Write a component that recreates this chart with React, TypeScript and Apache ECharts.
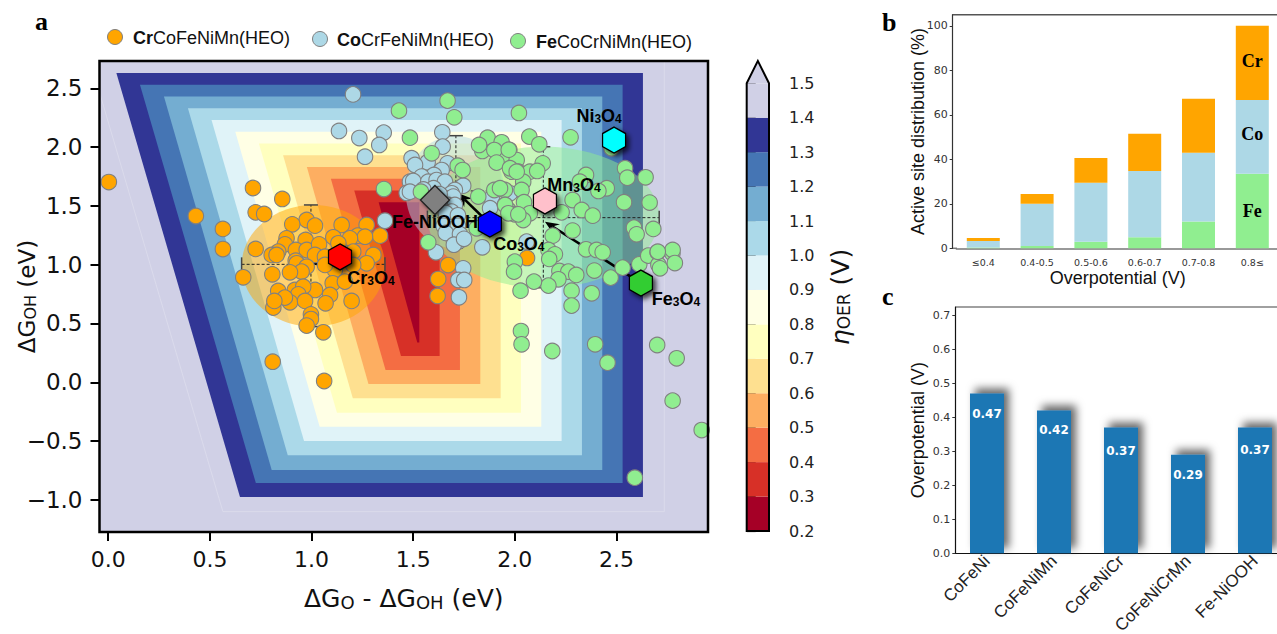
import React, { useEffect, useRef } from "react";
import * as echarts from "echarts";

const DEJAVU = "DejaVu Sans";
const ARIAL = "Liberation Sans";
const SERIF = "Liberation Serif";

// ---- panel a: contour bands (upper bound of each band)
const levels = [1.5, 1.4, 1.3, 1.2, 1.1, 1.0, 0.9, 0.8, 0.7, 0.6, 0.5, 0.4, 0.3];
const levelTop = [2.8, 2.63, 2.53, 2.43, 2.33, 2.23, 2.13, 2.03, 1.93, 1.83, 1.73, 1.63, 1.53];
const levelRight = [2.735, 2.63, 2.53, 2.43, 2.33, 2.23, 2.13, 2.03, 1.93, 1.83, 1.73, 1.63, 1.53];
const levelBottom = [-1.1, -0.975, -0.856, -0.746, -0.62, -0.5, -0.377, -0.258, -0.136, -0.014, 0.105, 0.224, 0.339];
const levelLeftTop = [-0.1, 0.04, 0.156, 0.274, 0.392, 0.508, 0.625, 0.741, 0.86, 0.977, 1.095, 1.21, 1.33];
const levelLeftBottom = [0.564, 0.648, 0.726, 0.804, 0.883, 0.963, 1.04, 1.125, 1.203, 1.28, 1.364, 1.44, 1.52];
const levelColors = ["#d0d0e6", "#313695", "#4575b4", "#74add1", "#abd9e9", "#e0f3f8", "#ffffe5", "#ffffbf", "#fee090", "#fdae61", "#f46d43", "#d73027", "#a50026"];

const crPoints = [
  [0.003, 1.703], [0.431, 1.414], [0.564, 1.304], [0.564, 1.133], [0.712, 1.652], [0.809, 0.175], [1.062, 0.011],
  [0.856, 1.559], [0.725, 1.445], [0.767, 1.431], [0.976, 1.38], [0.905, 1.343], [1.017, 1.332], [1.148, 1.338],
  [1.271, 1.338], [1.337, 1.247], [1.227, 1.247], [1.263, 1.238], [1.189, 1.224], [1.107, 1.233], [1.132, 1.182],
  [0.971, 1.21], [0.877, 1.224], [0.869, 1.173], [0.836, 1.111], [0.725, 1.134], [0.804, 1.083], [0.828, 1.083],
  [0.923, 1.125], [0.976, 1.125], [1.037, 1.173], [1.017, 1.083], [0.922, 1.034], [0.927, 1.012], [1.066, 1.068],
  [1.205, 1.111], [1.304, 1.083], [1.271, 1.012], [1.205, 0.998], [1.115, 0.955], [0.976, 0.983], [0.951, 0.941],
  [0.894, 0.935], [0.807, 0.918], [0.664, 0.893], [1.066, 0.998], [1.017, 0.785], [1.104, 0.842], [1.164, 0.856],
  [1.197, 0.692], [1.091, 0.743], [1.069, 0.672], [0.836, 0.777], [0.918, 0.785], [0.959, 0.813], [0.935, 0.748],
  [0.894, 0.68], [0.869, 0.72], [0.968, 0.692], [0.812, 0.635], [0.817, 0.692], [0.997, 0.578], [0.997, 0.538],
  [0.976, 0.482], [1.058, 0.425], [1.672, 0.997], [1.623, 0.878], [1.62, 0.734], [2.06, 1.057],
];
const coPoints = [
  [1.204, 2.448], [1.135, 2.137], [1.235, 2.077], [1.355, 2.123], [1.333, 2.018], [1.263, 1.918], [1.361, 1.374],
  [2.058, 1.196], [1.484, 1.706], [1.468, 1.61], [1.643, 2.126], [1.645, 2.004], [1.492, 1.905], [1.571, 1.871],
  [1.509, 1.848], [1.669, 1.862], [1.64, 1.805], [1.602, 1.763], [1.541, 1.749], [1.5, 1.712], [1.574, 1.706],
  [1.615, 1.72], [1.656, 1.706], [1.484, 1.621], [1.746, 1.672], [1.705, 1.635], [1.689, 1.607], [1.681, 1.565],
  [1.697, 1.579], [1.673, 1.508], [1.705, 1.508], [1.689, 1.451], [1.664, 1.394], [1.697, 1.38], [1.681, 1.324],
  [1.689, 1.281], [1.722, 1.196], [1.697, 1.224], [1.612, 1.105], [1.84, 1.148], [1.746, 0.969], [1.722, 0.87],
  [1.751, 0.87], [1.725, 0.723], [1.886, 1.565], [1.878, 1.48], [1.976, 1.607], [1.6, 1.65], [1.63, 1.6], [1.55, 1.64],
  [1.66, 1.44], [1.72, 1.42], [1.65, 1.33], [1.72, 1.33], [1.66, 1.27], [1.73, 1.26], [1.7, 1.17], [1.75, 1.22],
];
const fePoints = [
  [2.071, 2.089], [2.12, 2.024], [2.274, 2.083], [2.476, 1.99], [1.973, 1.975], [1.935, 1.905], [2.009, 1.89],
  [1.984, 1.791], [2.017, 1.791], [2.074, 1.791], [2.137, 1.862], [2.11, 1.797], [2.041, 1.706], [2.033, 1.635],
  [1.951, 1.635], [2.045, 1.531], [1.951, 1.508], [1.968, 1.465], [2.0, 1.428], [2.074, 1.437], [2.041, 1.38],
  [2.35, 1.763], [2.32, 1.706], [2.452, 1.65], [2.411, 1.627], [2.284, 1.55], [2.329, 1.465], [2.383, 1.417],
  [2.23, 1.445], [2.542, 1.82], [2.553, 1.74], [2.643, 1.743], [2.537, 1.531], [2.663, 1.528], [2.586, 1.315],
  [2.599, 1.258], [2.681, 1.304], [2.284, 1.29], [2.186, 1.247], [2.165, 1.125], [2.197, 1.088], [2.169, 1.049],
  [2.0, 1.026], [1.996, 0.941], [2.35, 1.131], [2.402, 1.125], [2.432, 1.105], [2.219, 0.947], [2.263, 0.941],
  [2.302, 0.913], [2.214, 0.876], [2.391, 0.95], [2.471, 0.89], [2.165, 0.822], [2.094, 0.856], [2.028, 0.779],
  [2.279, 0.779], [2.378, 0.757], [2.279, 0.652], [2.53, 0.975], [2.612, 1.003], [2.656, 1.077], [2.702, 1.105],
  [2.775, 1.097], [2.706, 1.0], [2.714, 0.969], [2.776, 1.125], [2.787, 1.014], [2.703, 1.11],
  [1.484, 2.08], [1.591, 1.947], [1.866, 2.08], [1.935, 2.041], [1.84, 1.967], [1.899, 1.975], [1.97, 1.978],
  [1.824, 2.018], [1.91, 1.868], [1.719, 1.842], [1.743, 1.805], [1.976, 1.82], [2.009, 1.791], [1.538, 1.621],
  [1.82, 1.579], [1.899, 1.635], [1.927, 1.65], [1.952, 1.508], [1.968, 1.437], [2.017, 1.428], [1.574, 1.19],
  [1.812, 1.309], [1.43, 2.31], [1.356, 1.643], [1.669, 2.395], [1.702, 2.253], [2.02, 2.29],
  [2.03, 0.436], [2.033, 0.323], [2.184, 0.266], [2.395, 0.323], [2.456, 0.167], [2.7, 0.317], [2.796, 0.204],
  [2.776, -0.156], [2.919, -0.406], [2.59, -0.811],
];

// spreads: [xLow, xHigh, yLow, yHigh, xCross, yCross]
const crSpread = [0.656, 1.361, 0.473, 1.508, 0.997, 1.003];
const coSpread = [1.463, 1.948, 1.14, 2.097, 1.71, 1.627];
const feSpread = [1.57, 2.71, 0.804, 2.003, 2.14, 1.4];

const oxideNames = ["Cr3O4", "Co3O4", "Mn3O4", "Ni3O4", "Fe3O4"];
const oxideLabels = ["Cr{s|3}O{s|4}", "Co{s|3}O{s|4}", "Mn{s|3}O{s|4}", "Ni{s|3}O{s|4}", "Fe{s|3}O{s|4}"];
const oxideX = [1.14, 1.877, 2.148, 2.488, 2.62];
const oxideY = [1.066, 1.346, 1.542, 2.06, 0.844];
const oxideColors = ["#ff0000", "#0000ff", "#ffc0cb", "#00ffff", "#32cd32"];
const oxideLabelOffsets = [[31, 21], [29, 20], [29, -16], [-15, -24], [35, 16]];
const refPoint = [1.607, 1.55];

const arrowFrom = [[1.14, 1.066], [1.877, 1.346], [2.62, 0.844]];
const arrowTo = [[0.997, 1.003], [1.722, 1.607], [2.148, 1.366]];

const xTicksA = [0, 0.5, 1, 1.5, 2, 2.5];
const yTicksA = [-1, -0.5, 0, 0.5, 1, 1.5, 2, 2.5];

// ---- colorbar
const barLows = [0.2, 0.3, 0.4, 0.5, 0.6, 0.7, 0.8, 0.9, 1.0, 1.1, 1.2, 1.3, 1.4];
const barColors = ["#a50026", "#d73027", "#f46d43", "#fdae61", "#fee090", "#ffffbf", "#ffffe5", "#e0f3f8", "#abd9e9", "#74add1", "#4575b4", "#313695", "#d0d0e6"];

// ---- panel b
const bCategories = ["≤0.4", "0.4-0.5", "0.5-0.6", "0.6-0.7", "0.7-0.8", "0.8≤"];
const bFe = [0.4, 1, 3, 5, 12, 33.5];
const bCo = [2.9, 19, 26.5, 29.8, 31, 33.2];
const bCr = [1.3, 4.4, 11.1, 16.7, 24.2, 33.3];
const bYTicks = [0, 20, 40, 60, 80, 100];

// ---- panel c
const cCategories = ["CoFeNi", "CoFeNiMn", "CoFeNiCr", "CoFeNiCrMn", "Fe-NiOOH"];
const cValues = [0.47, 0.42, 0.37, 0.29, 0.37];
const cLabelGaps = [15, 14, 18, 14, 17];
const cYTicks = [0, 0.1, 0.2, 0.3, 0.4, 0.5, 0.6, 0.7];

const hexPath = "path://M0,-1 L0.866,-0.5 L0.866,0.5 L0,1 L-0.866,0.5 L-0.866,-0.5 Z";
const POINT_BORDER = "#808080";

function ellipseSeries(s: number[], fill: string) {
  return {
    type: "custom", xAxisIndex: 0, yAxisIndex: 0, silent: true, clip: true,
    data: [[s[0], s[1], s[2], s[3]]],
    encode: { x: 0, y: 2 },
    renderItem: (_p: any, api: any) => {
      const a = api.coord([api.value(0), api.value(2)]);
      const b = api.coord([api.value(1), api.value(3)]);
      return {
        type: "ellipse",
        shape: { cx: (a[0] + b[0]) / 2, cy: (a[1] + b[1]) / 2, rx: Math.abs(b[0] - a[0]) / 2, ry: Math.abs(b[1] - a[1]) / 2 },
        style: { fill },
      };
    },
  };
}

function pointSeries(points: number[][], color: string) {
  return {
    type: "scatter", xAxisIndex: 0, yAxisIndex: 0, silent: true,
    symbol: "circle", symbolSize: 15.5,
    itemStyle: { color, borderColor: POINT_BORDER, borderWidth: 1.1, opacity: 1 },
    data: points,
  };
}

function spreadSeries() {
  return {
    type: "custom", xAxisIndex: 0, yAxisIndex: 0, silent: true, clip: false,
    data: [crSpread, coSpread, feSpread],
    encode: { x: 4, y: 5 },
    renderItem: (_p: any, api: any) => {
      const l = api.coord([api.value(0), api.value(5)]);
      const r = api.coord([api.value(1), api.value(5)]);
      const b = api.coord([api.value(4), api.value(2)]);
      const t = api.coord([api.value(4), api.value(3)]);
      const dash = { stroke: "#222", lineWidth: 1, lineDash: [3, 2] };
      const cap = { stroke: "#444", lineWidth: 1.5 };
      const line = (x1: number, y1: number, x2: number, y2: number, style: any) => ({ type: "line", shape: { x1, y1, x2, y2 }, style });
      return {
        type: "group",
        children: [
          line(l[0], l[1], r[0], r[1], dash),
          line(b[0], b[1], t[0], t[1], dash),
          line(l[0], l[1] - 7, l[0], l[1] + 7, cap),
          line(r[0], r[1] - 7, r[0], r[1] + 7, cap),
          line(b[0] - 7, b[1], b[0] + 7, b[1], cap),
          line(t[0] - 7, t[1], t[0] + 7, t[1], cap),
        ],
      };
    },
  };
}

function arrowSeries() {
  return {
    type: "custom", xAxisIndex: 0, yAxisIndex: 0, silent: true, clip: false,
    data: arrowFrom.map((f, i) => [f[0], f[1], arrowTo[i][0], arrowTo[i][1]]),
    encode: { x: 0, y: 1 },
    renderItem: (_p: any, api: any) => {
      const a = api.coord([api.value(0), api.value(1)]);
      const b = api.coord([api.value(2), api.value(3)]);
      const ang = Math.atan2(b[1] - a[1], b[0] - a[0]);
      const ux = Math.cos(ang), uy = Math.sin(ang);
      const hl = 14, hw = 6, notch = 9;
      return {
        type: "group",
        children: [
          { type: "line", shape: { x1: a[0], y1: a[1], x2: b[0] - ux * notch, y2: b[1] - uy * notch }, style: { stroke: "#000", lineWidth: 2.6 } },
          {
            type: "polygon",
            shape: {
              points: [
                [b[0], b[1]],
                [b[0] - ux * hl - uy * hw, b[1] - uy * hl + ux * hw],
                [b[0] - ux * notch, b[1] - uy * notch],
                [b[0] - ux * hl + uy * hw, b[1] - uy * hl - ux * hw],
              ],
            },
            style: { fill: "#000" },
          },
        ],
      };
    },
  };
}

const markerLabelRich = {
  s: { fontSize: 12, fontWeight: "bold", fontFamily: ARIAL, color: "#000", verticalAlign: "bottom", padding: [4, 0, 0, 0] },
};

const option: any = {
  animation: false,
  backgroundColor: "#fff",
  grid: [
    { left: 99.5, top: 61, width: 608.5, height: 471, show: true, backgroundColor: "#d0d0e6", borderWidth: 0, z: 0, outerBoundsMode: "none" },
    { left: 746.7, top: 83.3, width: 22.3, height: 447.7, outerBoundsMode: "none" },
    { left: 956.4, top: 14.7, width: 322.8, height: 233.6, outerBoundsMode: "none" },
    { left: 953.5, top: 307, width: 335, height: 246.3, outerBoundsMode: "none" },
  ],
  xAxis: [
    {
      gridIndex: 0, type: "value", min: -0.043, max: 2.95, splitLine: { show: false },
      axisLine: { show: false, onZero: false },
      axisTick: { show: true, length: 9, customValues: xTicksA, lineStyle: { color: "#000", width: 2 } },
      axisLabel: { customValues: xTicksA, fontSize: 22, fontFamily: DEJAVU, color: "#111", margin: 16, formatter: (v: number) => v.toFixed(1) },
      name: "ΔG{s|O} - ΔG{s|OH} (eV)", nameLocation: "middle", nameGap: 54, nameMoveOverlap: false,
      nameTextStyle: { fontSize: 25, fontFamily: DEJAVU, color: "#111", rich: { s: { fontSize: 18, fontFamily: DEJAVU, color: "#111", verticalAlign: "bottom", padding: [6, 0, 0, 0] } } },
    },
    { gridIndex: 1, type: "value", min: 0, max: 1, show: false },
    {
      gridIndex: 2, type: "category", data: bCategories,
      axisLine: { lineStyle: { color: "#777", width: 1.5 } },
      axisTick: { alignWithLabel: true, length: 3, lineStyle: { color: "#555" } },
      axisLabel: { fontSize: 9.5, fontFamily: DEJAVU, color: "#333", margin: 9 },
      name: "Overpotential (V)", nameLocation: "middle", nameGap: 21, nameMoveOverlap: false,
      nameTextStyle: { fontSize: 18, fontFamily: ARIAL, color: "#111" },
    },
    {
      gridIndex: 3, type: "category", data: cCategories,
      axisLine: { lineStyle: { color: "#111", width: 1.2 } },
      axisTick: { alignWithLabel: true, length: 4, lineStyle: { color: "#333" } },
      axisLabel: { fontSize: 17, fontFamily: ARIAL, color: "#222", rotate: 45, margin: 5 },
    },
  ],
  yAxis: [
    {
      gridIndex: 0, type: "value", min: -1.273, max: 2.732, splitLine: { show: false },
      axisLine: { show: false, onZero: false },
      axisTick: { show: true, length: 9, customValues: yTicksA, lineStyle: { color: "#000", width: 2 } },
      axisLabel: { customValues: yTicksA, fontSize: 23, fontFamily: DEJAVU, color: "#111", margin: 17, formatter: (v: number) => v.toFixed(1).replace("-", "−") },
      name: "ΔG{s|OH} (eV)", nameLocation: "middle", nameGap: 61, nameMoveOverlap: false,
      nameTextStyle: { fontSize: 23, fontFamily: DEJAVU, color: "#111", rich: { s: { fontSize: 16, fontFamily: DEJAVU, color: "#111", verticalAlign: "bottom", padding: [6, 0, 0, 0] } } },
    },
    {
      gridIndex: 1, type: "value", position: "right", min: 0.2, max: 1.5, interval: 0.1, splitLine: { show: false },
      axisLine: { show: false },
      axisTick: { show: true, length: 9, lineStyle: { color: "#111", width: 1.2 } },
      axisLabel: { fontSize: 16, fontFamily: DEJAVU, color: "#222", margin: 20, formatter: (v: number) => v.toFixed(1) },
    },
    {
      gridIndex: 2, type: "value", min: 0, max: 105, offset: 3.7, splitLine: { show: false },
      axisLine: { show: true, lineStyle: { color: "#333", width: 1.2 } },
      axisTick: { show: true, length: 3, customValues: bYTicks, lineStyle: { color: "#333" } },
      axisLabel: { customValues: bYTicks, fontSize: 11, fontFamily: DEJAVU, color: "#333", margin: 5 },
      name: "Active site distribution (%)", nameLocation: "middle", nameGap: 26, nameMoveOverlap: false,
      nameTextStyle: { fontSize: 18, fontFamily: ARIAL, color: "#111" },
    },
    {
      gridIndex: 3, type: "value", min: 0, max: 0.7244, offset: -1.8, splitLine: { show: false },
      axisLine: { show: true, lineStyle: { color: "#111", width: 1.2 } },
      axisTick: { show: true, length: 3, customValues: cYTicks, lineStyle: { color: "#333" } },
      axisLabel: { customValues: cYTicks, fontSize: 11, fontFamily: DEJAVU, color: "#333", margin: 5, formatter: (v: number) => v.toFixed(1) },
      name: "Overpotential (V)", nameLocation: "middle", nameGap: 28, nameMoveOverlap: false,
      nameTextStyle: { fontSize: 18, fontFamily: ARIAL, color: "#111" },
    },
  ],
  series: [
    {
      type: "custom", xAxisIndex: 0, yAxisIndex: 0, silent: true, clip: true,
      data: levels.map((l, i) => [levelLeftTop[i], levelTop[i], levelRight[i], levelBottom[i], levelLeftBottom[i], l]),
      encode: { x: 0, y: 1 },
      renderItem: (p: any, api: any) => ({
        type: "polygon",
        shape: {
          points: [
            api.coord([api.value(0), api.value(1)]),
            api.coord([api.value(2), api.value(1)]),
            api.coord([api.value(2), api.value(3)]),
            api.coord([api.value(4), api.value(3)]),
          ],
        },
        style: p.dataIndex === 0
          ? { fill: levelColors[0], stroke: "rgba(255,255,255,0.22)", lineWidth: 1 }
          : { fill: levelColors[p.dataIndex] },
      }),
    },
    ellipseSeries(crSpread, "rgba(255,165,0,0.5)"),
    pointSeries(crPoints, "#ffa500"),
    ellipseSeries(coSpread, "rgba(173,216,230,0.5)"),
    pointSeries(coPoints, "#add8e6"),
    ellipseSeries(feSpread, "rgba(144,238,144,0.5)"),
    pointSeries(fePoints, "#90ee90"),
    spreadSeries(),
    arrowSeries(),
    {
      type: "scatter", name: "Fe-NiOOH", xAxisIndex: 0, yAxisIndex: 0, silent: true, clip: false,
      symbol: "diamond", symbolSize: [29, 29],
      itemStyle: { color: "#808080", borderColor: "#222", borderWidth: 1.3, opacity: 1, shadowColor: "rgba(0,0,0,0.6)", shadowBlur: 4, shadowOffsetX: 2, shadowOffsetY: 2 },
      label: { show: true, position: "inside", offset: [0, 22], formatter: "Fe-NiOOH", fontSize: 18, fontWeight: "bold", fontFamily: ARIAL, color: "#000" },
      data: [refPoint],
    },
    {
      type: "scatter", xAxisIndex: 0, yAxisIndex: 0, silent: true, clip: false,
      symbol: hexPath, symbolSize: [23, 26],
      data: oxideNames.map((n, i) => ({
        name: n,
        value: [oxideX[i], oxideY[i]],
        itemStyle: { color: oxideColors[i], borderColor: "#000", borderWidth: 1.3, opacity: 1, shadowColor: "rgba(0,0,0,0.7)", shadowBlur: 5, shadowOffsetX: 3, shadowOffsetY: 3 },
        label: {
          show: true, position: "inside", offset: oxideLabelOffsets[i], formatter: oxideLabels[i],
          fontSize: 18, fontWeight: "bold", fontFamily: ARIAL, color: "#000", rich: markerLabelRich,
        },
      })),
    },
    // colorbar
    {
      type: "custom", xAxisIndex: 1, yAxisIndex: 1, silent: true, clip: false,
      data: barLows.map((l) => [0, l]),
      encode: { x: 0, y: 1 },
      renderItem: (p: any, api: any) => {
        const low = api.value(1);
        const a = api.coord([0, low]);
        const b = api.coord([1, low + 0.1]);
        return { type: "rect", shape: { x: a[0], y: b[1], width: b[0] - a[0], height: a[1] - b[1] }, style: { fill: barColors[p.dataIndex] } };
      },
    },
    {
      type: "custom", xAxisIndex: 1, yAxisIndex: 1, silent: true, clip: false,
      data: [[0.5, 1.565]],
      encode: { x: 0, y: 1 },
      renderItem: (_p: any, api: any) => ({
        type: "polygon",
        shape: { points: [api.coord([0, 0.2]), api.coord([1, 0.2]), api.coord([1, 1.5]), api.coord([api.value(0), api.value(1)]), api.coord([0, 1.5])] },
        style: { fill: "none", stroke: "#000", lineWidth: 2 },
        z2: 10,
      }),
    },
    {
      type: "custom", xAxisIndex: 1, yAxisIndex: 1, silent: true, clip: false, z: 1,
      data: [[0.5, 1.565]],
      encode: { x: 0, y: 1 },
      renderItem: (_p: any, api: any) => ({
        type: "polygon",
        shape: { points: [api.coord([1, 1.5]), api.coord([api.value(0), api.value(1)]), api.coord([0, 1.5])] },
        style: { fill: barColors[12] },
      }),
    },
    // panel b
    {
      type: "bar", name: "Fe", xAxisIndex: 2, yAxisIndex: 2, stack: "sites", barWidth: 33, silent: true,
      itemStyle: { color: "#90ee90" },
      data: bFe.map((v, i) => (i === 5 ? { value: v, label: { show: true, position: "inside", formatter: "Fe", fontFamily: SERIF, fontWeight: "bold", fontSize: 18, color: "#000" } } : v)),
    },
    {
      type: "bar", name: "Co", xAxisIndex: 2, yAxisIndex: 2, stack: "sites", barWidth: 33, silent: true,
      itemStyle: { color: "#add8e6" },
      data: bCo.map((v, i) => (i === 5 ? { value: v, label: { show: true, position: "inside", offset: [0, -3], formatter: "Co", fontFamily: SERIF, fontWeight: "bold", fontSize: 18, color: "#000" } } : v)),
    },
    {
      type: "bar", name: "Cr", xAxisIndex: 2, yAxisIndex: 2, stack: "sites", barWidth: 33, silent: true,
      itemStyle: { color: "#ffa500" },
      data: bCr.map((v, i) => (i === 5 ? { value: v, label: { show: true, position: "inside", offset: [0, -2], formatter: "Cr", fontFamily: SERIF, fontWeight: "bold", fontSize: 18, color: "#000" } } : v)),
    },
    // panel c
    {
      type: "bar", xAxisIndex: 3, yAxisIndex: 3, barWidth: 34, silent: true,
      itemStyle: { color: "#1f77b4", shadowColor: "rgba(0,0,0,0.6)", shadowBlur: 8, shadowOffsetX: 5, shadowOffsetY: -5 },
      data: cValues.map((v, i) => ({
        value: v,
        label: { show: true, position: "insideTop", distance: cLabelGaps[i], formatter: v.toFixed(2), fontFamily: DEJAVU, fontWeight: "bold", fontSize: 12, color: "#fff" },
      })),
    },
  ],
  graphic: [
    { type: "rect", z: 100, shape: { x: 99.5, y: 61, width: 608.5, height: 471 }, style: { fill: "none", stroke: "#000", lineWidth: 2.5 } },
    { type: "text", x: 35, y: 8, style: { text: "a", font: `bold 26px "${SERIF}"`, fill: "#000" } },
    { type: "text", x: 882, y: 9, style: { text: "b", font: `bold 26px "${SERIF}"`, fill: "#000" } },
    { type: "text", x: 882, y: 283, style: { text: "c", font: `bold 26px "${SERIF}"`, fill: "#000" } },
    { type: "line", shape: { x1: 952.7, y1: 14.7, x2: 1300, y2: 14.7 }, style: { stroke: "#555", lineWidth: 1.5 } },
    { type: "line", shape: { x1: 952.7, y1: 248.3, x2: 957, y2: 248.3 }, style: { stroke: "#777", lineWidth: 1.5 } },
    { type: "line", shape: { x1: 955.3, y1: 307, x2: 1300, y2: 307 }, style: { stroke: "#808080", lineWidth: 1.5 } },
    { type: "circle", shape: { cx: 115, cy: 37, r: 7.5 }, style: { fill: "#ffa500", stroke: "#808080", lineWidth: 1 } },
    { type: "circle", shape: { cx: 320, cy: 39, r: 7.5 }, style: { fill: "#add8e6", stroke: "#808080", lineWidth: 1 } },
    { type: "circle", shape: { cx: 518, cy: 41, r: 7.5 }, style: { fill: "#90ee90", stroke: "#808080", lineWidth: 1 } },
    ...[
      { x: 133, y: 38, t: "{b|Cr}CoFeNiMn(HEO)" },
      { x: 337, y: 40, t: "{b|Co}CrFeNiMn(HEO)" },
      { x: 536, y: 42, t: "{b|Fe}CoCrNiMn(HEO)" },
    ].map((d) => ({
      type: "text", x: d.x, y: d.y,
      style: {
        text: d.t, fontSize: 18, fontFamily: ARIAL, fill: "#111", verticalAlign: "middle", align: "left",
        rich: { b: { fontSize: 18, fontFamily: ARIAL, fontWeight: "bold", fill: "#111" } },
      },
    })),
    {
      type: "text", x: 840, y: 297, rotation: Math.PI / 2,
      style: {
        text: "{i|η}{s|OER} (V)", fontSize: 25, fontFamily: DEJAVU, fill: "#111", align: "center", verticalAlign: "middle",
        rich: {
          i: { fontSize: 25, fontStyle: "italic", fontFamily: DEJAVU, fill: "#111" },
          s: { fontSize: 17, fontFamily: DEJAVU, fill: "#111", verticalAlign: "bottom", padding: [6, 0, 0, 0] },
        },
      },
    },
  ],
};

export default function App() {
  const ref = useRef<HTMLDivElement>(null);
  useEffect(() => {
    document.body.style.margin = "0";
    const chart = echarts.init(ref.current!, undefined, { renderer: "svg" });
    chart.setOption(option);
    return () => chart.dispose();
  }, []);
  return (
    <div style={{ width: 1277, height: 634, overflow: "hidden" }}>
      <div ref={ref} style={{ width: 1300, height: 634 }} />
    </div>
  );
}
